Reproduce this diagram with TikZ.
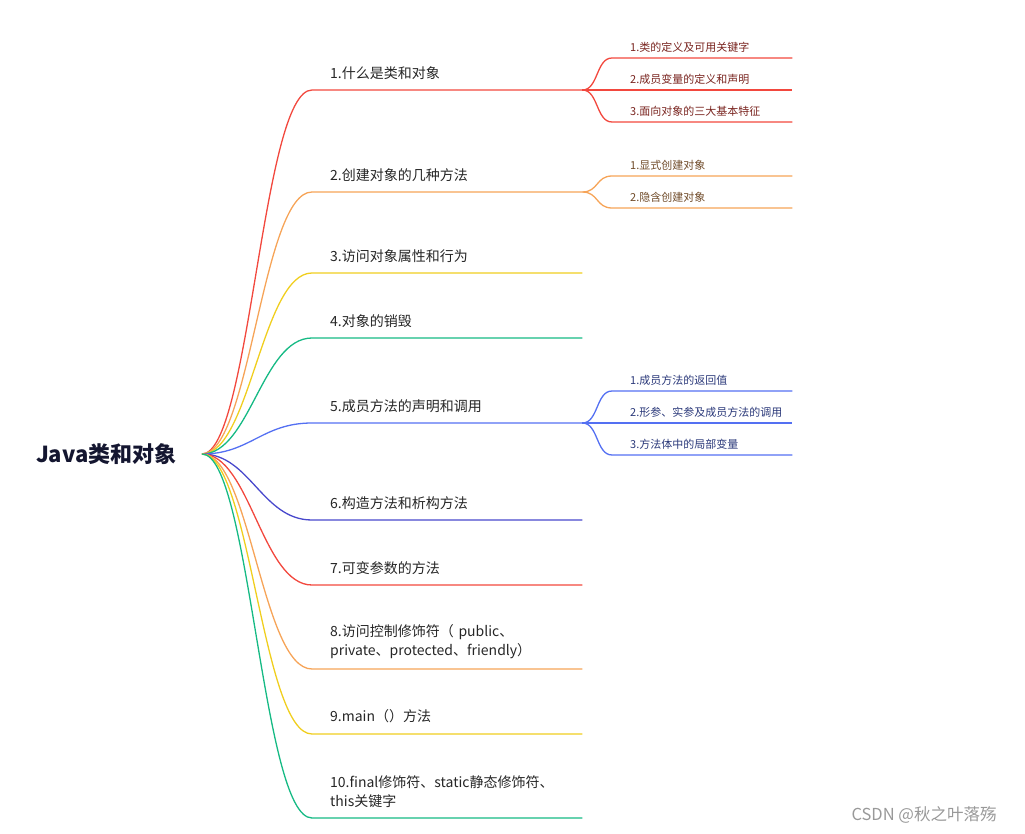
\documentclass[tikz,border=0pt]{standalone}
\usepackage{fontspec}
\setmainfont{Noto Sans CJK SC}
\usetikzlibrary{positioning}
\definecolor{cred}{RGB}{242,72,62}
\definecolor{corange}{RGB}{246,164,88}
\definecolor{cyellow}{RGB}{240,206,30}
\definecolor{cgreen}{RGB}{22,186,132}
\definecolor{cblue}{RGB}{84,112,242}
\definecolor{cindigo}{RGB}{72,72,204}
\tikzset{%
	root/.style = { font=\bfseries\fontsize{22}{26}\selectfont, text={rgb,255:red,20;green,22;blue,48} },
	topic/.style = { anchor=south west, text width=234pt, inner xsep=18pt, inner ysep=10.5pt, align=left, text=black!85, font=\fontsize{14}{19}\selectfont },
	subtopic/.style = { anchor=south west, text width=144pt, inner xsep=18pt, inner ysep=5pt, align=left, font=\fontsize{11}{13}\selectfont },
	edge/.style = { line width=1.3pt },
	watermark/.style = { text=black!40, font=\fontsize{16.5}{19}\selectfont }
}
\begin{document}
\begin{tikzpicture}[x=1pt, y=-1pt]
	\useasboundingbox (0,0) rectangle (1025,834);
	% 中心主题
	\coordinate (hub) at (202,454);
	\node[root, left=22pt of hub] (root) {Java类和对象};
	% 一级分支
	\node[topic] (t1) at (312,90) {1.什么是类和对象};
	\node[topic] (t2) at (312,192) {2.创建对象的几种方法};
	\node[topic] (t3) at (312,273) {3.访问对象属性和行为};
	\node[topic] (t4) at (312,338) {4.对象的销毁};
	\node[topic] (t5) at (312,423) {5.成员方法的声明和调用};
	\node[topic] (t6) at (312,520) {6.构造方法和析构方法};
	\node[topic] (t7) at (312,585) {7.可变参数的方法};
	\node[topic] (t8) at (312,669) {8.访问控制修饰符（ public、\\private、protected、friendly）};
	\node[topic] (t9) at (312,734) {9.main（）方法};
	\node[topic] (t10) at (312,818) {10.final修饰符、static静态修饰符、\\this关键字};
	\draw[edge, cred] (hub) .. controls +(48,0) and +(-50,0) .. (t1.south west) -- (t1.south east);
	\draw[edge, corange] (hub) .. controls +(48,0) and +(-50,0) .. (t2.south west) -- (t2.south east);
	\draw[edge, cyellow] (hub) .. controls +(48,0) and +(-50,0) .. (t3.south west) -- (t3.south east);
	\draw[edge, cgreen] (hub) .. controls +(48,0) and +(-50,0) .. (t4.south west) -- (t4.south east);
	\draw[edge, cblue] (hub) .. controls +(48,0) and +(-50,0) .. (t5.south west) -- (t5.south east);
	\draw[edge, cindigo] (hub) .. controls +(48,0) and +(-50,0) .. (t6.south west) -- (t6.south east);
	\draw[edge, cred] (hub) .. controls +(48,0) and +(-50,0) .. (t7.south west) -- (t7.south east);
	\draw[edge, corange] (hub) .. controls +(48,0) and +(-50,0) .. (t8.south west) -- (t8.south east);
	\draw[edge, cyellow] (hub) .. controls +(48,0) and +(-50,0) .. (t9.south west) -- (t9.south east);
	\draw[edge, cgreen] (hub) .. controls +(48,0) and +(-50,0) .. (t10.south west) -- (t10.south east);
	% 二级分支
	\node[subtopic, text=cred!50!black] (s11) at (612,58) {1.类的定义及可用关键字};
	\node[subtopic, text=cred!50!black] (s12) at (612,90) {2.成员变量的定义和声明};
	\node[subtopic, text=cred!50!black] (s13) at (612,122) {3.面向对象的三大基本特征};
	\node[subtopic, text=corange!45!black] (s21) at (612,176) {1.显式创建对象};
	\node[subtopic, text=corange!45!black] (s22) at (612,208) {2.隐含创建对象};
	\node[subtopic, text=cblue!50!black] (s51) at (612,391) {1.成员方法的返回值};
	\node[subtopic, text=cblue!50!black] (s52) at (612,423) {2.形参、实参及成员方法的调用};
	\node[subtopic, text=cblue!50!black] (s53) at (612,455) {3.方法体中的局部变量};
	\draw[edge, cred] (t1.south east) .. controls +(16,0) and +(-16,0) .. (s11.south west) -- (s11.south east);
	\draw[edge, cred] (t1.south east) .. controls +(16,0) and +(-16,0) .. (s12.south west) -- (s12.south east);
	\draw[edge, cred] (t1.south east) .. controls +(16,0) and +(-16,0) .. (s13.south west) -- (s13.south east);
	\draw[edge, corange] (t2.south east) .. controls +(16,0) and +(-16,0) .. (s21.south west) -- (s21.south east);
	\draw[edge, corange] (t2.south east) .. controls +(16,0) and +(-16,0) .. (s22.south west) -- (s22.south east);
	\draw[edge, cblue] (t5.south east) .. controls +(16,0) and +(-16,0) .. (s51.south west) -- (s51.south east);
	\draw[edge, cblue] (t5.south east) .. controls +(16,0) and +(-16,0) .. (s52.south west) -- (s52.south east);
	\draw[edge, cblue] (t5.south east) .. controls +(16,0) and +(-16,0) .. (s53.south west) -- (s53.south east);
	% 水印
	\node[watermark] (wm) at (924,815) {CSDN @秋之叶落殇};
\end{tikzpicture}
\end{document}
